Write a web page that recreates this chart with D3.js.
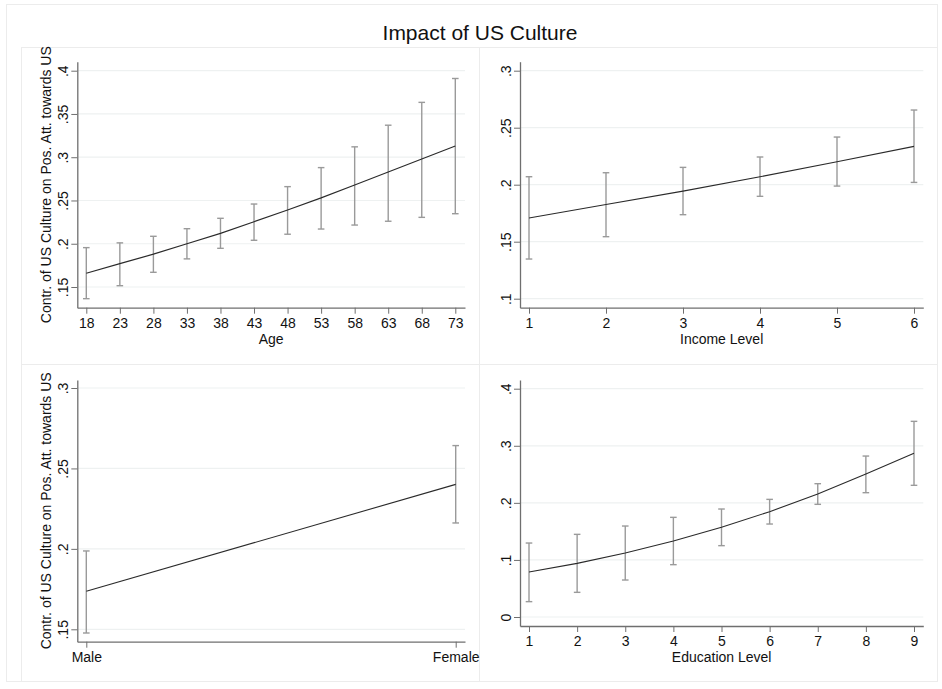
<!DOCTYPE html>
<html>
<head>
<meta charset="utf-8">
<script src="https://cdn.jsdelivr.net/npm/d3@7/dist/d3.min.js"></script>
<style>
  html, body { margin: 0; padding: 0; background: #fff; }
  svg { display: block; font-family: "Liberation Sans", Arial, Helvetica, sans-serif; }
</style>
</head>
<body>
<svg id="chart" width="942" height="689"></svg>
<script>
// ---------- DATA ----------
const chartTitle = "Impact of US Culture";
const yAxisTitle = "Contr. of US Culture on Pos. Att. towards US";

const ageLevels = [18, 23, 28, 33, 38, 43, 48, 53, 58, 63, 68, 73];
const ageMargin = [0.166, 0.177, 0.188, 0.200, 0.212, 0.2255, 0.239, 0.253, 0.268, 0.283, 0.298, 0.313];
const ageLower  = [0.1365, 0.1515, 0.167, 0.1825, 0.1947, 0.204, 0.211, 0.217, 0.2216, 0.226, 0.2305, 0.2347];
const ageUpper  = [0.1955, 0.201, 0.2086, 0.2174, 0.2294, 0.2459, 0.266, 0.288, 0.312, 0.337, 0.3634, 0.391];
const ageYTicks = [0.15, 0.2, 0.25, 0.3, 0.35, 0.4];
const ageYLabels = [".15", ".2", ".25", ".3", ".35", ".4"];

const incomeLevels = [1, 2, 3, 4, 5, 6];
const incomeMargin = [0.1708, 0.1827, 0.1944, 0.207, 0.2202, 0.2336];
const incomeLower  = [0.1348, 0.1544, 0.1737, 0.1898, 0.1988, 0.202];
const incomeUpper  = [0.207, 0.2105, 0.2152, 0.2243, 0.2418, 0.2655];
const incomeYTicks = [0.1, 0.15, 0.2, 0.25, 0.3];
const incomeYLabels = [".1", ".15", ".2", ".25", ".3"];

const genderLevels = ["Male", "Female"];
const genderMargin = [0.1736, 0.2401];
const genderLower  = [0.1477, 0.2161];
const genderUpper  = [0.1987, 0.2642];
const genderYTicks = [0.15, 0.2, 0.25, 0.3];
const genderYLabels = [".15", ".2", ".25", ".3"];

const eduLevels = [1, 2, 3, 4, 5, 6, 7, 8, 9];
const eduMargin = [0.0788, 0.094, 0.1121, 0.1331, 0.1571, 0.1845, 0.2155, 0.2505, 0.2867];
const eduLower  = [0.0269, 0.0432, 0.0648, 0.0917, 0.125, 0.1629, 0.1974, 0.2178, 0.2307];
const eduUpper  = [0.1296, 0.1448, 0.1594, 0.1746, 0.1892, 0.2061, 0.2336, 0.282, 0.3428];
const eduYTicks = [0, 0.1, 0.2, 0.3, 0.4];
const eduYLabels = ["0", ".1", ".2", ".3", ".4"];

// ---------- LAYOUT ----------
const svg = d3.select("#chart");
const W = 942, H = 689;

svg.append("rect").attr("x", 0).attr("y", 0).attr("width", W).attr("height", H).attr("fill", "#fff");
// outer border
svg.append("rect").attr("x", 6.5).attr("y", 4.5).attr("width", 931).attr("height", 677)
  .attr("fill", "#fff").attr("stroke", "#ececec").attr("stroke-width", 1);

// panel borders
const panelBoxes = [
  [21.5, 47.5, 458, 317], [479.5, 47.5, 458, 317],
  [21.5, 364.5, 458, 317], [479.5, 364.5, 458, 317]
];
panelBoxes.forEach(b => {
  svg.append("rect").attr("x", b[0]).attr("y", b[1]).attr("width", b[2]).attr("height", b[3])
    .attr("fill", "#fff").attr("stroke", "#ececec").attr("stroke-width", 1);
});

svg.append("text").attr("x", 480).attr("y", 39.5).attr("text-anchor", "middle")
  .attr("font-size", 21).attr("fill", "#111").text(chartTitle);

const panels = [
  { cats: ageLevels, m: ageMargin, lo: ageLower, hi: ageUpper, yt: ageYTicks, yl: ageYLabels,
    x0: 77.3, x1: 465, y0: 307.7, y1: 61.7, tickPx: [86.3, 455.3], yPx: [287, 70.7],
    xTitle: "Age", yTitle: true, cat: false },
  { cats: incomeLevels, m: incomeMargin, lo: incomeLower, hi: incomeUpper, yt: incomeYTicks, yl: incomeYLabels,
    x0: 520, x1: 923.3, y0: 307.7, y1: 61.7, tickPx: [529, 914], yPx: [298.7, 70.7],
    xTitle: "Income Level", yTitle: false, cat: false },
  { cats: genderLevels, m: genderMargin, lo: genderLower, hi: genderUpper, yt: genderYTicks, yl: genderYLabels,
    x0: 77.3, x1: 465, y0: 641.7, y1: 380, tickPx: [86.3, 455.7], yPx: [629.3, 388],
    xTitle: null, yTitle: true, cat: true },
  { cats: eduLevels, m: eduMargin, lo: eduLower, hi: eduUpper, yt: eduYTicks, yl: eduYLabels,
    x0: 520, x1: 923.3, y0: 626, y1: 380, tickPx: [529, 914], yPx: [617, 388.7],
    xTitle: "Education Level", yTitle: false, cat: false }
];

const axisColor = "#6f6f6f";
const gridColor = "#eef1f1";
const ciColor = "#9a9a9a";
const lineColor = "#2a2a2a";

panels.forEach(p => {
  const g = svg.append("g");
  // x scale: map first/last tick to their pixel positions, extend to axis extents
  const xIdx = p.cat ? p.cats.map((d, i) => i) : p.cats;
  const xa = xIdx[0], xb = xIdx[xIdx.length - 1];
  const kx = (p.tickPx[1] - p.tickPx[0]) / (xb - xa);
  const xDom = [xa - (p.tickPx[0] - p.x0) / kx, xb + (p.x1 - p.tickPx[1]) / kx];
  const x = d3.scaleLinear().domain(xDom).range([p.x0, p.x1]);

  const ya = p.yt[0], yb = p.yt[p.yt.length - 1];
  const ky = (p.yPx[0] - p.yPx[1]) / (yb - ya);
  const yDom = [ya - (p.y0 - p.yPx[0]) / ky, yb + (p.yPx[1] - p.y1) / ky];
  const y = d3.scaleLinear().domain(yDom).range([p.y0, p.y1]);

  // gridlines
  g.selectAll("line.grid").data(p.yt).enter().append("line")
    .attr("x1", p.x0).attr("x2", p.x1)
    .attr("y1", d => y(d)).attr("y2", d => y(d))
    .attr("stroke", gridColor).attr("stroke-width", 1.2);

  // y axis
  const yAxis = d3.axisLeft(y).tickValues(p.yt).tickFormat((d, i) => p.yl[i]).tickSize(6).tickSizeOuter(0).tickPadding(3);
  const yg = g.append("g").attr("transform", `translate(${p.x0},0)`).call(yAxis);
  yg.select(".domain").attr("stroke", axisColor).attr("stroke-width", 1.3);
  yg.selectAll(".tick line").attr("stroke", axisColor).attr("stroke-width", 1);
  yg.selectAll(".tick text")
    .attr("font-size", 14).attr("fill", "#111")
    .attr("font-family", "'Liberation Sans', Arial, sans-serif")
    .attr("x", null).attr("dy", null)
    .attr("text-anchor", "middle")
    .attr("transform", "translate(-9,0) rotate(-90)");

  // x axis
  const xAxis = d3.axisBottom(x).tickValues(xIdx)
    .tickFormat((d, i) => p.cat ? p.cats[i] : String(d))
    .tickSize(6).tickSizeOuter(0).tickPadding(3);
  const xg = g.append("g").attr("transform", `translate(0,${p.y0})`).call(xAxis);
  xg.select(".domain").attr("stroke", axisColor).attr("stroke-width", 1.3);
  xg.selectAll(".tick line").attr("stroke", axisColor).attr("stroke-width", 1);
  xg.selectAll(".tick text")
    .attr("font-size", 14).attr("fill", "#111")
    .attr("font-family", "'Liberation Sans', Arial, sans-serif")
    .attr("dy", null).attr("y", 20);

  if (p.xTitle) {
    g.append("text").attr("x", (p.x0 + p.x1) / 2).attr("y", p.y0 + 36)
      .attr("text-anchor", "middle").attr("font-size", 14).attr("fill", "#111")
      .text(p.xTitle);
  }
  if (p.yTitle) {
    const cy = (p.y0 + p.y1) / 2;
    g.append("text").attr("transform", `translate(50.5,${cy}) rotate(-90)`)
      .attr("text-anchor", "middle").attr("font-size", 14).attr("fill", "#111")
      .text(yAxisTitle);
  }

  // error bars
  const eb = g.selectAll("g.eb").data(xIdx).enter().append("g");
  eb.append("line")
    .attr("x1", (d) => x(d)).attr("x2", (d) => x(d))
    .attr("y1", (d, i) => y(p.lo[i])).attr("y2", (d, i) => y(p.hi[i]))
    .attr("stroke", ciColor).attr("stroke-width", 1.4);
  [p.lo, p.hi].forEach(arr => {
    eb.append("line")
      .attr("x1", d => x(d) - 3.3).attr("x2", d => x(d) + 3.3)
      .attr("y1", (d, i) => y(arr[i])).attr("y2", (d, i) => y(arr[i]))
      .attr("stroke", ciColor).attr("stroke-width", 1.4);
  });

  // line
  const line = d3.line().x(d => x(d[0])).y(d => y(d[1]));
  g.append("path").datum(xIdx.map((d, i) => [d, p.m[i]]))
    .attr("d", line).attr("fill", "none")
    .attr("stroke", lineColor).attr("stroke-width", 1.1);
});
</script>
</body>
</html>
